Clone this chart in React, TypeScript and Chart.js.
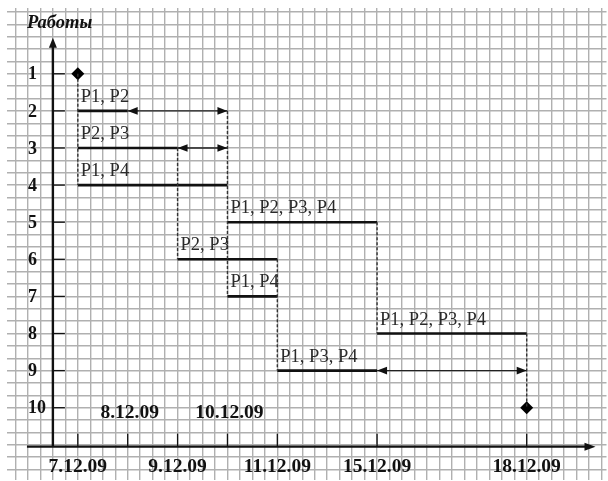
import React, { useEffect, useRef } from 'react';
import { Chart, registerables } from 'chart.js';

Chart.register(...registerables);

// ---------- data ----------
const dateLabels = ['7.12.09', '8.12.09', '9.12.09', '10.12.09', '11.12.09', '15.12.09', '18.12.09'];
const datePositions = [0, 1, 2, 3, 4, 6, 9];
const lowerDateLabels = ['7.12.09', '9.12.09', '11.12.09', '15.12.09', '18.12.09'];
const upperDateLabels = ['8.12.09', '10.12.09'];

const rowValues = [1, 2, 3, 4, 5, 6, 7, 8, 9, 10];
const rowLabels = ['1', '2', '3', '4', '5', '6', '7', '8', '9', '10'];
const axisTitle = 'Работы';

const taskRows = [2, 3, 4, 5, 6, 7, 8, 9];
const taskStarts = ['7.12.09', '7.12.09', '7.12.09', '10.12.09', '9.12.09', '10.12.09', '15.12.09', '11.12.09'];
const taskEnds = ['8.12.09', '9.12.09', '10.12.09', '15.12.09', '11.12.09', '11.12.09', '18.12.09', '15.12.09'];
const taskNames = ['P1, P2', 'P2, P3', 'P1, P4', 'P1, P2, P3, P4', 'P2, P3', 'P1, P4', 'P1, P2, P3, P4', 'P1, P3, P4'];

const slackRows = [2, 3, 9];
const slackStarts = ['8.12.09', '9.12.09', '15.12.09'];
const slackEnds = ['10.12.09', '10.12.09', '18.12.09'];

const linkDates = ['7.12.09', '9.12.09', '10.12.09', '11.12.09', '15.12.09', '18.12.09'];
const linkFromRows = [1, 3, 2, 6, 5, 8];
const linkToRows = [4, 6, 7, 9, 8, 10];

const eventDates = ['7.12.09', '18.12.09'];
const eventRows = [1, 10];

// ---------- layout / style ----------
const W = 608;
const H = 481;
const EXTRA = 5; // Chart.js keeps 5px on the right/bottom; canvas is enlarged and clipped
const X_MIN = -1.42;
const X_MAX = 10.6;
const Y_MIN = -0.773;
const Y_MAX = 11.935;
const GRID_X_STEP = 0.25;
const GRID_Y_STEP = 1 / 3;
const Y_AXIS_AT = -0.5;
const X_AXIS_AT = 11.05;
const Y_AXIS_TOP = 0.03;
const X_AXIS_LEFT = -1.02;
const X_AXIS_RIGHT = 10.38;
const UPPER_LABEL_ROW = 10.15;
const SERIF = '"Liberation Serif", "Times New Roman", serif';

const pos = (d: string) => datePositions[dateLabels.indexOf(d)];

function arrowHead(ctx: CanvasRenderingContext2D, x: number, y: number, dx: number, dy: number, len: number, half: number) {
  const px = -dy;
  const py = dx;
  ctx.beginPath();
  ctx.moveTo(x, y);
  ctx.lineTo(x - dx * len + px * half, y - dy * len + py * half);
  ctx.lineTo(x - dx * len - px * half, y - dy * len - py * half);
  ctx.closePath();
  ctx.fill();
}

const gridTicks = (step: number) => (scale: any) => {
  const t: { value: number }[] = [];
  for (let k = Math.ceil(scale.min / step - 1e-9); k * step <= scale.max + 1e-9; k++) {
    t.push({ value: k * step });
  }
  scale.ticks = t;
};

const decorPlugin = {
  id: 'decor',
  afterDatasetsDraw(chart: any) {
    const ctx: CanvasRenderingContext2D = chart.ctx;
    const xs = chart.scales.x;
    const ys = chart.scales.y;
    const X = (v: number) => xs.getPixelForValue(v);
    const Y = (v: number) => ys.getPixelForValue(v);
    ctx.save();

    // axes
    ctx.strokeStyle = '#111';
    ctx.fillStyle = '#111';
    ctx.lineWidth = 2.4;
    const ax = X(Y_AXIS_AT);
    const ay = Y(X_AXIS_AT);
    ctx.beginPath();
    ctx.moveTo(ax, ay);
    ctx.lineTo(ax, Y(Y_AXIS_TOP) + 6);
    ctx.moveTo(X(X_AXIS_LEFT), ay);
    ctx.lineTo(X(X_AXIS_RIGHT) - 6, ay);
    ctx.stroke();
    arrowHead(ctx, ax, Y(Y_AXIS_TOP), 0, -1, 10, 4);
    arrowHead(ctx, X(X_AXIS_RIGHT), ay, 1, 0, 11, 4);

    // y ticks and labels
    ctx.lineWidth = 1.3;
    ctx.font = `bold 18px ${SERIF}`;
    ctx.textAlign = 'left';
    ctx.textBaseline = 'middle';
    rowValues.forEach((r, i) => {
      const y = Y(r);
      ctx.beginPath();
      ctx.moveTo(ax, y);
      ctx.lineTo(ax + 12, y);
      ctx.stroke();
      ctx.fillText(rowLabels[i], 28, y + 1);
    });

    // x ticks
    datePositions.forEach((p) => {
      const x = X(p);
      ctx.beginPath();
      ctx.moveTo(x, ay);
      ctx.lineTo(x, ay - 13);
      ctx.stroke();
    });
    ctx.font = `bold 19.5px ${SERIF}`;
    ctx.textAlign = 'center';
    lowerDateLabels.forEach((d) => {
      ctx.fillText(d, X(pos(d)), ay + 20);
    });
    upperDateLabels.forEach((d) => {
      ctx.fillText(d, X(pos(d)) + 2, Y(UPPER_LABEL_ROW));
    });

    // title
    ctx.font = `italic bold 18.5px ${SERIF}`;
    ctx.textAlign = 'left';
    ctx.fillText(axisTitle, 27, 23);

    // slack arrowheads
    ctx.fillStyle = '#111';
    slackRows.forEach((r, i) => {
      const y = Y(r);
      arrowHead(ctx, X(pos(slackStarts[i])), y, -1, 0, 10, 3.8);
      arrowHead(ctx, X(pos(slackEnds[i])), y, 1, 0, 10, 3.8);
    });

    // task labels
    ctx.fillStyle = '#2a2a2a';
    ctx.font = `18.5px ${SERIF}`;
    ctx.textAlign = 'left';
    ctx.textBaseline = 'alphabetic';
    taskRows.forEach((r, i) => {
      ctx.fillText(taskNames[i], X(pos(taskStarts[i])) + 3, Y(r) - 9);
    });

    ctx.restore();
  },
};

export default function App() {
  const ref = useRef<HTMLCanvasElement | null>(null);

  useEffect(() => {
    document.body.style.margin = '0';
    const canvas = ref.current;
    if (!canvas) return;

    const datasets: any[] = [];
    linkDates.forEach((d, i) => {
      datasets.push({
        data: [
          { x: pos(d), y: linkFromRows[i] },
          { x: pos(d), y: linkToRows[i] },
        ],
        showLine: true,
        borderColor: '#333',
        borderWidth: 1.4,
        borderDash: [3, 2],
        pointRadius: 0,
      });
    });
    taskRows.forEach((r, i) => {
      datasets.push({
        data: [
          { x: pos(taskStarts[i]), y: r },
          { x: pos(taskEnds[i]), y: r },
        ],
        showLine: true,
        borderColor: '#111',
        borderWidth: 2.6,
        pointRadius: 0,
      });
    });
    slackRows.forEach((r, i) => {
      datasets.push({
        data: [
          { x: pos(slackStarts[i]), y: r },
          { x: pos(slackEnds[i]), y: r },
        ],
        showLine: true,
        borderColor: '#222',
        borderWidth: 1.3,
        pointRadius: 0,
      });
    });
    datasets.push({
      data: eventDates.map((d, i) => ({ x: pos(d), y: eventRows[i] })),
      showLine: false,
      pointStyle: 'rectRot',
      pointRadius: 6.5,
      backgroundColor: '#000',
      borderColor: '#000',
      borderWidth: 0,
    });

    const chart = new Chart(canvas, {
      type: 'scatter',
      data: { datasets },
      options: {
        animation: false,
        responsive: false,
        devicePixelRatio: 1,
        layout: { padding: { left: 7, top: 8, right: 0, bottom: 0 } },
        plugins: { legend: { display: false }, tooltip: { enabled: false } },
        events: [],
        scales: {
          x: {
            type: 'linear',
            min: X_MIN,
            max: X_MAX,
            afterBuildTicks: gridTicks(GRID_X_STEP),
            ticks: { display: false },
            border: { display: false },
            grid: { color: '#b0b0b0', lineWidth: 1.4, drawTicks: false },
          },
          y: {
            type: 'linear',
            reverse: true,
            min: Y_MIN,
            max: Y_MAX,
            afterBuildTicks: gridTicks(GRID_Y_STEP),
            ticks: { display: false },
            border: { display: false },
            grid: { color: '#b0b0b0', lineWidth: 1.4, drawTicks: false },
          },
        },
      } as any,
      plugins: [decorPlugin],
    });
    return () => chart.destroy();
  }, []);

  return (
    <div style={{ position: 'absolute', left: 0, top: 0, width: W, height: H, overflow: 'hidden', background: '#fff' }}>
      <canvas
        ref={ref}
        width={W + EXTRA}
        height={H + EXTRA}
        style={{ display: 'block', width: W + EXTRA, height: H + EXTRA }}
      />
    </div>
  );
}
